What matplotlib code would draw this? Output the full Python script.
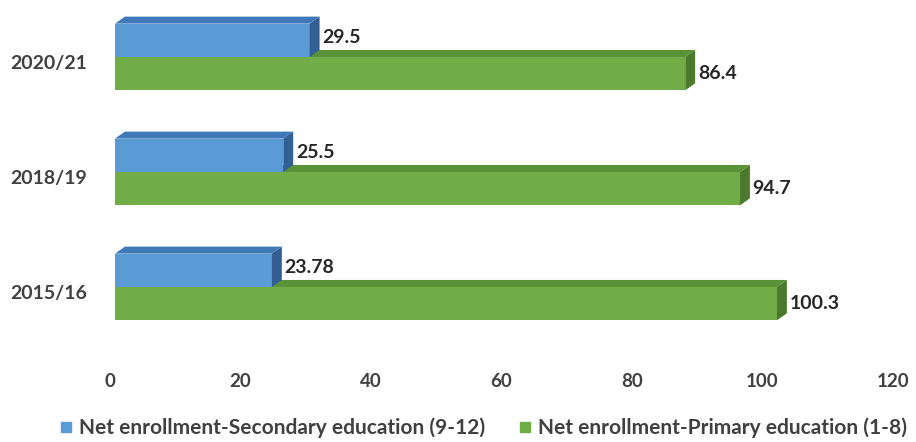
import matplotlib.pyplot as plt
import matplotlib as mpl
import matplotlib.transforms as mtrans
from matplotlib.patches import Polygon
from matplotlib.lines import Line2D

mpl.rcParams['font.family'] = ['Lato', 'DejaVu Sans']

years = ['2015/16', '2018/19', '2020/21']
secondary = [23.78, 25.5, 29.5]
primary = [100.3, 94.7, 86.4]
sec_labels = ['23.78', '25.5', '29.5']
pri_labels = ['100.3', '94.7', '86.4']

blue = ('#5b9bd5', '#4079b8', '#325f94')   # front, top, side
green = ('#70ad47', '#5a9238', '#4b7a2d')
txt = '#404040'

fig = plt.figure(figsize=(9.16, 4.42), dpi=100)
ax = fig.add_axes([115 / 916, 1 - 340 / 442, 792 / 916, 335 / 442])
ax.set_xlim(0, 120)
ax.set_ylim(-0.461, 2.452)

h = 0.29       # bar thickness
dx = 1.5       # depth offset along x (data units)
dy = 0.061     # depth offset along y (data units)


def bar3d(v, y0, cols):
    front, top, side = cols
    y1 = y0 + h
    ax.add_patch(Polygon([(0, y0), (v, y0), (v, y1), (0, y1)], closed=True,
                         facecolor=front, edgecolor='none'))
    ax.add_patch(Polygon([(0, y1), (dx, y1 + dy), (v + dx, y1 + dy), (v, y1)],
                         closed=True, facecolor=top, edgecolor='none'))
    ax.add_patch(Polygon([(v, y0), (v + dx, y0 + dy), (v + dx, y1 + dy), (v, y1)],
                         closed=True, facecolor=side, edgecolor='none'))


for i in range(len(years)):
    # green sits below the category centre, blue above it
    bar3d(primary[i], i - h, green)
    ax.text(primary[i] + dx + 0.4, i - h / 2, pri_labels[i], fontsize=14,
            fontweight='bold', color='#262626', va='center', ha='left')
    bar3d(secondary[i], i, blue)
    ax.text(secondary[i] + dx + 0.4, i + h / 2 + 0.025, sec_labels[i], fontsize=14,
            fontweight='bold', color='#262626', va='center', ha='left')

ax.set_yticks(range(len(years)))
ax.set_yticklabels(years, fontsize=14, fontweight='bold', color=txt)
ax.tick_params(axis='y', length=0, pad=20)
shift = mtrans.ScaledTranslation(0, -5 / 100, fig.dpi_scale_trans)
for lab in ax.get_yticklabels():
    lab.set_transform(lab.get_transform() + shift)
ax.set_xticks([])
for s in ax.spines.values():
    s.set_visible(False)

# value axis drawn on the front plane, slightly narrower than the bars
tax = fig.add_axes([110 / 916, 1 - 340 / 442, 783 / 916, 0.001])
tax.set_xlim(0, 120)
tax.set_xticks(range(0, 121, 20))
tax.set_yticks([])
tax.patch.set_alpha(0)
tax.tick_params(axis='x', labelsize=13.5, labelcolor=txt, length=0, pad=24)
for lab in tax.get_xticklabels():
    lab.set_fontweight('bold')
for s in tax.spines.values():
    s.set_visible(False)

handles = [Line2D([], [], marker='s', linestyle='none', markersize=7.5,
                  color=blue[0], label='Net enrollment-Secondary education (9-12)'),
           Line2D([], [], marker='s', linestyle='none', markersize=7.5,
                  color=green[0], label='Net enrollment-Primary education (1-8)')]
leg = fig.legend(handles=handles, loc='center', bbox_to_anchor=(0.527, 0.032),
                 ncol=2, frameon=False, fontsize=15, handlelength=0.7,
                 handletextpad=0.25, columnspacing=1.6)
for t in leg.get_texts():
    t.set_color(txt)
    t.set_fontweight('bold')

fig.savefig('out.png', dpi=100)
